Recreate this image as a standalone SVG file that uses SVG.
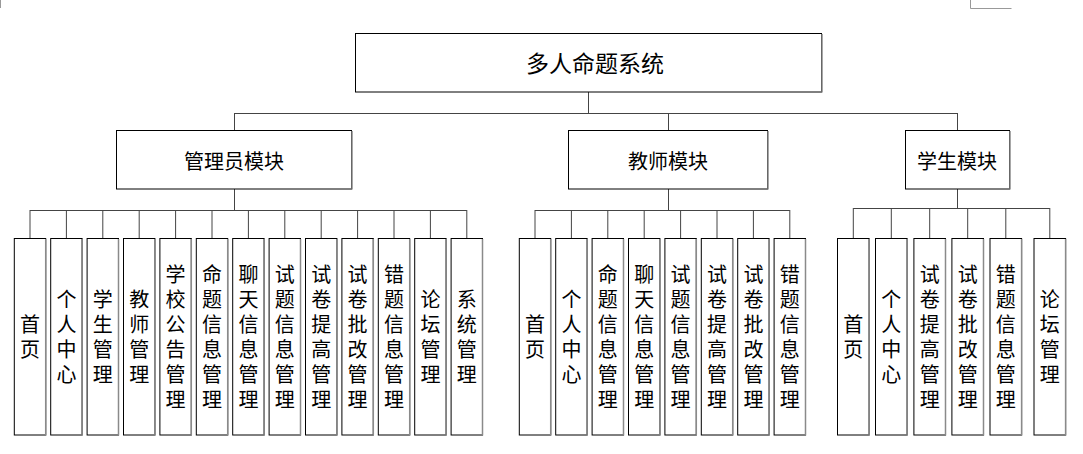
<svg xmlns="http://www.w3.org/2000/svg" width="1083" height="454" viewBox="0 0 1083 454">
<style>
.box{fill:#fff;stroke:#000;stroke-width:1}
.sh{stroke:#8a8a8a;stroke-width:1.5;fill:none}
.con{fill:none;stroke:#444;stroke-width:1}
.t{font-family:"Noto Sans CJK SC","Liberation Sans",sans-serif;fill:#000;text-anchor:middle;dominant-baseline:central}
.v{font-family:"Noto Sans CJK SC","Liberation Sans",sans-serif;fill:#000;font-size:20px;writing-mode:vertical-rl;text-anchor:middle;dominant-baseline:central;letter-spacing:5px}
</style>
<rect width="1083" height="454" fill="#fff"/>
<g id="corner-marks" stroke="#999" stroke-width="1" fill="none">
<path d="M0.5 0V8"/>
<path d="M970.5 0V8.5H1011.5"/>
</g>
<g id="connectors" class="con">
<path d="M588.5 92V113M234.5 113.5H957.5M234.5 113V130M668.5 113V130M957.5 113V130"/>
<path d="M234.5 189V210M30 210.5H466.8M30 210V238M66.4 210V238M102.8 210V238M139.2 210V238M175.6 210V238M212 210V238M248.4 210V238M284.8 210V238M321.2 210V238M357.6 210V238M394 210V238M430.4 210V238M466.8 210V238"/>
<path d="M668.5 189V210M535 210.5H789.8M535 210V238M571.4 210V238M607.8 210V238M644.2 210V238M680.6 210V238M717 210V238M753.4 210V238M789.8 210V238"/>
<path d="M957.5 189V208.5M853.3 208.5H1049.8M853.3 208V238M891.3 208V238M929.7 208V238M967.7 208V238M1005.8 208V238M1049.8 208V238"/>
</g>
<g id="root">
<rect class="box" x="355.5" y="33.5" width="466" height="58.5"/>
<path class="sh" d="M822 34V92.5"/>
<text class="t" x="595" y="62" font-size="23">多人命题系统</text>
</g>
<g id="admin">
<rect class="box" x="116.5" y="130.5" width="235" height="58.5"/>
<path class="sh" d="M352 131V189.5"/>
<text class="t" x="234" y="160" font-size="20">管理员模块</text>
</g>
<g id="teacher">
<rect class="box" x="568.5" y="130.5" width="199" height="58.5"/>
<path class="sh" d="M768 131V189.5"/>
<text class="t" x="668" y="160" font-size="20">教师模块</text>
</g>
<g id="student">
<rect class="box" x="905.5" y="130.5" width="104" height="58.5"/>
<path class="sh" d="M1010 131V189.5"/>
<text class="t" x="957" y="160" font-size="20">学生模块</text>
</g>

<g id="a1"><rect class="box" x="14.3" y="238.5" width="31.4" height="196.5"/><path class="sh" d="M45.7 239V435.5"/><text class="v" x="30" y="339">首页</text></g>
<g id="a2"><rect class="box" x="50.7" y="238.5" width="31.4" height="196.5"/><path class="sh" d="M82.1 239V435.5"/><text class="v" x="66.4" y="339">个人中心</text></g>
<g id="a3"><rect class="box" x="87.1" y="238.5" width="31.4" height="196.5"/><path class="sh" d="M118.5 239V435.5"/><text class="v" x="102.8" y="339">学生管理</text></g>
<g id="a4"><rect class="box" x="123.5" y="238.5" width="31.4" height="196.5"/><path class="sh" d="M154.9 239V435.5"/><text class="v" x="139.2" y="339">教师管理</text></g>
<g id="a5"><rect class="box" x="159.9" y="238.5" width="31.4" height="196.5"/><path class="sh" d="M191.3 239V435.5"/><text class="v" x="175.6" y="339">学校公告管理</text></g>
<g id="a6"><rect class="box" x="196.3" y="238.5" width="31.4" height="196.5"/><path class="sh" d="M227.7 239V435.5"/><text class="v" x="212" y="339">命题信息管理</text></g>
<g id="a7"><rect class="box" x="232.7" y="238.5" width="31.4" height="196.5"/><path class="sh" d="M264.1 239V435.5"/><text class="v" x="248.4" y="339">聊天信息管理</text></g>
<g id="a8"><rect class="box" x="269.1" y="238.5" width="31.4" height="196.5"/><path class="sh" d="M300.5 239V435.5"/><text class="v" x="284.8" y="339">试题信息管理</text></g>
<g id="a9"><rect class="box" x="305.5" y="238.5" width="31.4" height="196.5"/><path class="sh" d="M336.9 239V435.5"/><text class="v" x="321.2" y="339">试卷提高管理</text></g>
<g id="a10"><rect class="box" x="341.9" y="238.5" width="31.4" height="196.5"/><path class="sh" d="M373.3 239V435.5"/><text class="v" x="357.6" y="339">试卷批改管理</text></g>
<g id="a11"><rect class="box" x="378.3" y="238.5" width="31.4" height="196.5"/><path class="sh" d="M409.7 239V435.5"/><text class="v" x="394" y="339">错题信息管理</text></g>
<g id="a12"><rect class="box" x="414.7" y="238.5" width="31.4" height="196.5"/><path class="sh" d="M446.1 239V435.5"/><text class="v" x="430.4" y="339">论坛管理</text></g>
<g id="a13"><rect class="box" x="451.1" y="238.5" width="31.4" height="196.5"/><path class="sh" d="M482.5 239V435.5"/><text class="v" x="466.8" y="339">系统管理</text></g>

<g id="t1"><rect class="box" x="519.3" y="238.5" width="31.4" height="196.5"/><path class="sh" d="M550.7 239V435.5"/><text class="v" x="535" y="339">首页</text></g>
<g id="t2"><rect class="box" x="555.7" y="238.5" width="31.4" height="196.5"/><path class="sh" d="M587.1 239V435.5"/><text class="v" x="571.4" y="339">个人中心</text></g>
<g id="t3"><rect class="box" x="592.1" y="238.5" width="31.4" height="196.5"/><path class="sh" d="M623.5 239V435.5"/><text class="v" x="607.8" y="339">命题信息管理</text></g>
<g id="t4"><rect class="box" x="628.5" y="238.5" width="31.4" height="196.5"/><path class="sh" d="M659.9 239V435.5"/><text class="v" x="644.2" y="339">聊天信息管理</text></g>
<g id="t5"><rect class="box" x="664.9" y="238.5" width="31.4" height="196.5"/><path class="sh" d="M696.3 239V435.5"/><text class="v" x="680.6" y="339">试题信息管理</text></g>
<g id="t6"><rect class="box" x="701.3" y="238.5" width="31.4" height="196.5"/><path class="sh" d="M732.7 239V435.5"/><text class="v" x="717" y="339">试卷提高管理</text></g>
<g id="t7"><rect class="box" x="737.7" y="238.5" width="31.4" height="196.5"/><path class="sh" d="M769.1 239V435.5"/><text class="v" x="753.4" y="339">试卷批改管理</text></g>
<g id="t8"><rect class="box" x="774.1" y="238.5" width="31.4" height="196.5"/><path class="sh" d="M805.5 239V435.5"/><text class="v" x="789.8" y="339">错题信息管理</text></g>

<g id="s1"><rect class="box" x="837.5" y="238.5" width="31.6" height="196.5"/><path class="sh" d="M869.1 239V435.5"/><text class="v" x="853.3" y="339">首页</text></g>
<g id="s2"><rect class="box" x="875.5" y="238.5" width="31.6" height="196.5"/><path class="sh" d="M907.1 239V435.5"/><text class="v" x="891.3" y="339">个人中心</text></g>
<g id="s3"><rect class="box" x="913.9" y="238.5" width="31.6" height="196.5"/><path class="sh" d="M945.5 239V435.5"/><text class="v" x="929.7" y="339">试卷提高管理</text></g>
<g id="s4"><rect class="box" x="951.9" y="238.5" width="31.6" height="196.5"/><path class="sh" d="M983.5 239V435.5"/><text class="v" x="967.7" y="339">试卷批改管理</text></g>
<g id="s5"><rect class="box" x="990" y="238.5" width="31.6" height="196.5"/><path class="sh" d="M1021.6 239V435.5"/><text class="v" x="1005.8" y="339">错题信息管理</text></g>
<g id="s6"><rect class="box" x="1034" y="238.5" width="31.6" height="196.5"/><path class="sh" d="M1065.6 239V435.5"/><text class="v" x="1049.8" y="339">论坛管理</text></g>
</svg>
